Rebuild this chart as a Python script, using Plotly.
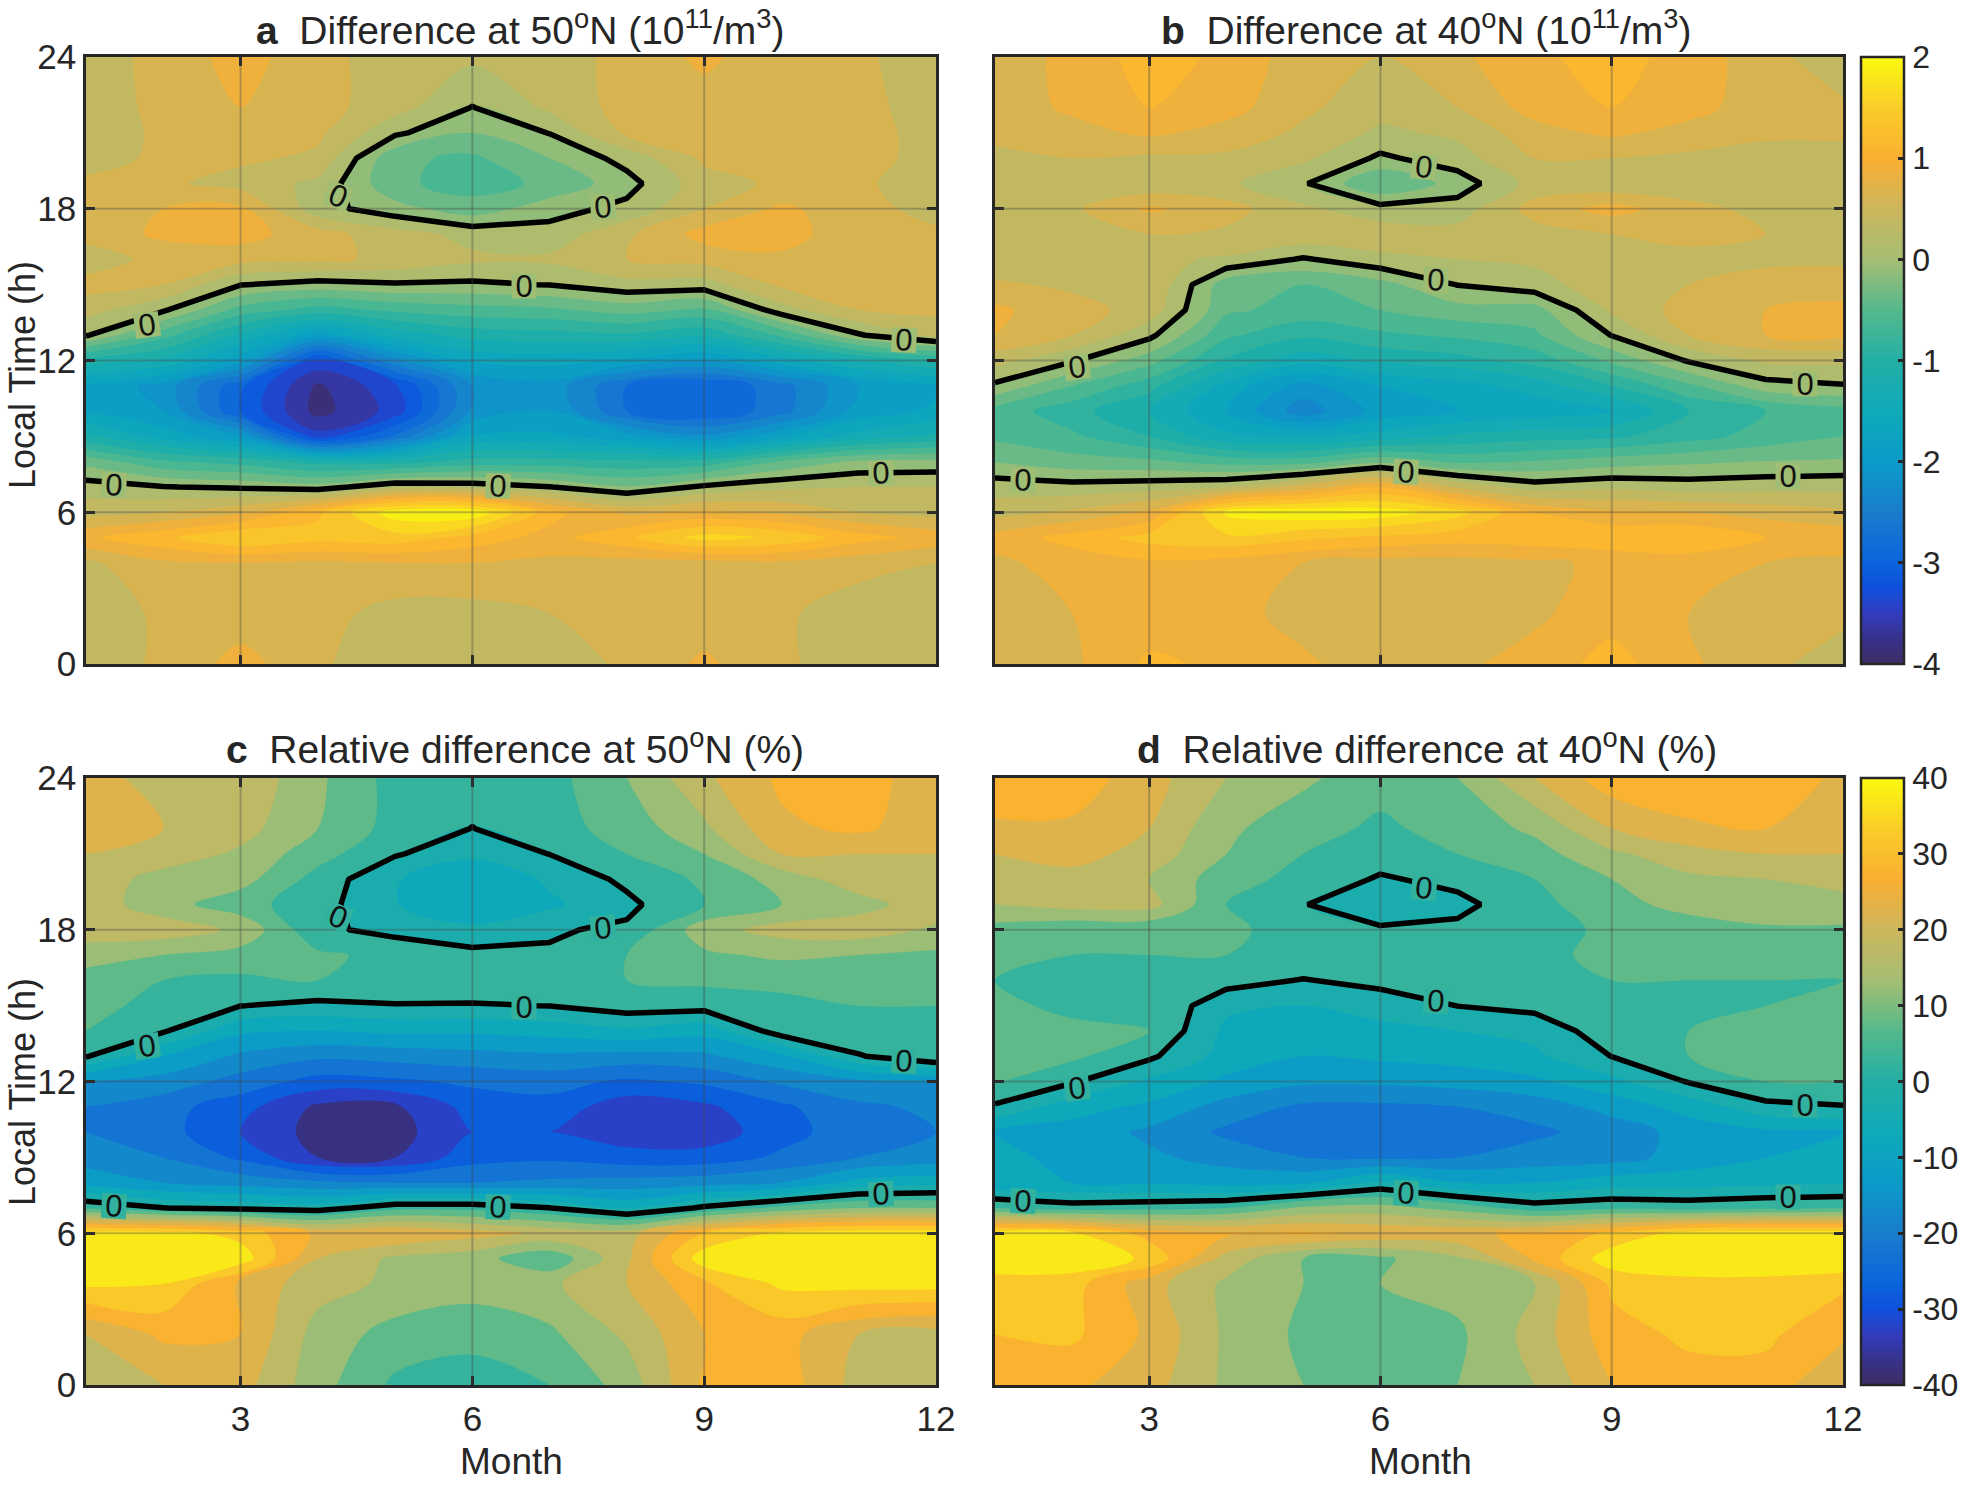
import plotly.graph_objects as go

months = list(range(1, 13))
hours = [0, 2, 4, 5, 6, 7, 8, 9, 10, 11, 12, 13, 14, 15, 16, 17, 18, 19, 20, 21, 22, 24]
month_ticks = [3, 6, 9, 12]
hour_ticks = [0, 6, 12, 18, 24]

panel_a = [
    [.35, .55, .85, .55, .3, .3, .35, .55, .8, .55, .35, .35],
    [.35, .55, .6, .6, .4, .4, .5, .6, .6, .55, .35, .35],
    [.45, .7, .75, .7, .75, .75, .7, .65, .65, .7, .6, .5],
    [.95, 1.2, 1.5, 1.35, 1.4, 1.15, .9, 1.2, 1.6, 1.45, 1.1, .9],
    [.4, .5, .7, 1.2, 1.9, 1.95, 1.1, .7, .8, .7, .5, .4],
    [.12, .01, -.04, -.13, .2, .16, .01, -.23, .05, .2, .25, .25],
    [-.33, -.7, -.85, -1.1, -1.1, -.9, -.9, -.95, -.9, -.47, -.2, -.17],
    [-1.2, -1.6, -2.0, -3.4, -2.7, -1.7, -1.7, -1.9, -2.2, -1.8, -1.4, -1.2],
    [-1.75, -2.0, -3.0, -3.85, -3.4, -2.2, -2.0, -2.75, -3.0, -2.6, -1.9, -1.7],
    [-1.8, -2.1, -2.95, -3.8, -3.3, -2.25, -2.1, -2.75, -3.0, -2.6, -2.0, -1.8],
    [-1.1, -1.3, -1.9, -3.3, -2.3, -1.7, -1.65, -1.8, -2.0, -1.6, -1.25, -1.0],
    [.03, -.65, -1.3, -1.9, -1.4, -1.15, -1.1, -1.05, -1.2, -.7, -.03, .33],
    [.35, .04, -.6, -.85, -.7, -.6, -.55, -.4, -.55, .15, .5, .55],
    [.6, .5, .01, -.1, -.03, -.05, .01, .17, .14, .55, .6, .6],
    [.35, .6, .6, .55, .45, .3, .3, .5, .6, .7, .6, .6],
    [.6, .8, .85, .6, .35, .17, .1, .45, .85, .85, .6, .55],
    [.6, .75, .8, .1, -.15, -.4, -.1, .07, .5, .8, .6, .4],
    [.55, .55, .4, .19, -.45, -.6, -.45, -.1, .4, .55, .55, .35],
    [.4, .55, .55, .45, -.45, -.55, -.25, .1, .55, .6, .6, .4],
    [.35, .55, .6, .55, .05, -.25, .01, .55, .6, .6, .6, .4],
    [.3, .6, .75, .6, .35, -.01, .3, .6, .65, .6, .6, .35],
    [.35, .6, .85, .6, .35, .3, .35, .6, .8, .6, .55, .35],
]

panel_b = [
    [.6, .7, 1.05, .95, .8, .6, .7, .85, 1.1, .8, .55, .4],
    [.6, .75, .85, .85, .65, .6, .6, .7, .9, .75, .65, .55],
    [.7, .85, .95, .9, .75, .65, .65, .7, .8, .85, .75, .7],
    [.85, 1.1, 1.35, 1.45, 1.3, 1.2, 1.1, 1.15, 1.2, 1.25, 1.0, .9],
    [.4, .55, .8, 1.8, 1.95, 1.9, 1.6, 1.0, .8, .75, .65, .55],
    [.14, .1, .15, .25, .6, 1.0, .45, .12, .2, .13, .16, .18],
    [-.26, -.4, -.45, -.6, -.6, -.3, -.55, -.48, -.37, -.3, -.24, -.22],
    [-.55, -.7, -1.0, -1.45, -1.55, -1.4, -1.2, -1.1, -1.05, -.85, -.65, -.5],
    [-.6, -.9, -1.25, -1.75, -2.4, -1.9, -1.75, -1.65, -1.55, -1.0, -.75, -.6],
    [-.05, -.5, -.9, -1.6, -2.1, -1.75, -1.6, -1.4, -1.0, -.55, -.1, -.02],
    [.35, .03, -.4, -1.05, -1.4, -1.2, -1.1, -.9, -.45, .03, .3, .3],
    [.75, .5, .07, -.7, -.95, -.8, -.7, -.55, .01, .5, .75, .8],
    [.8, .6, .4, -.45, -.6, -.5, -.35, -.35, .3, .6, .75, .8],
    [.55, .45, .5, -.4, -.5, -.35, .01, .15, .4, .5, .6, .65],
    [.3, .25, .3, .22, -.03, .19, .25, .3, .4, .45, .45, .45],
    [.4, .4, .5, .45, .45, .4, .35, .4, .5, .55, .5, .5],
    [.3, .45, .8, .6, .3, .1, .12, .6, .85, .6, .4, .3],
    [.3, .3, .3, .3, .03, -.5, -.15, .35, .3, .3, .35, .3],
    [.45, .5, .45, .45, .3, -.05, .15, .5, .5, .45, .4, .4],
    [.55, .65, .8, .65, .45, .2, .3, .65, .8, .65, .55, .55],
    [.6, .8, 1.0, .85, .55, .35, .5, .85, 1.0, .85, .6, .55],
    [.55, .85, 1.1, .95, .6, .5, .7, .95, 1.1, .9, .6, .3],
]

panel_c = [
    [18, 20, 22, 12, 4, 2, 5, 12, 26, 28, 18, 18],
    [20, 26, 25, 13, 8, 7, 9, 16, 25, 27, 20, 18],
    [36, 35, 24, 17, 14, 12, 14, 20, 29, 36, 37, 37],
    [40, 40, 38, 20, 14, 12, 6, 19, 38, 40, 40, 40],
    [37, 37, 33, 24, 25, 22, 19, 18, 30, 36, 38, 38],
    [4.4, .1, -1.5, -2.7, 3.5, 3.5, .1, -6, 1, 6.4, 10, 10],
    [-12, -15, -17, -19, -20, -20, -19, -18, -17, -15, -8.2, -6.7],
    [-17, -20, -26, -35, -35, -27, -26, -28, -28, -24, -20, -18],
    [-20, -23, -30, -37, -37, -30, -30, -33, -33, -27, -22, -20],
    [-20, -23, -28, -36, -36, -28, -27, -33, -31, -26, -21, -19],
    [-15, -17, -22, -27, -26, -24, -23, -26, -24, -19, -16, -15],
    [.45, -10, -16, -19, -18, -17, -16, -17, -16, -11, -.5, 5],
    [5, .6, -9, -10, -9, -9, -8, -6, -8, 2.7, 5, 5],
    [6, 4, .1, -1.3, -.3, -.5, .1, 2.6, 2, 4, 5, 5],
    [8, 5, 4, 5, 4, 4.5, 4, 5, 6, 6, 6, 6],
    [12, 10, 8, 6, 3.5, 1.5, .5, 5, 9, 11, 10, 9],
    [18, 18, 14, 1, -1.5, -3.5, -.5, .8, 13, 17, 18, 14],
    [18, 12, 7, 2, -4.7, -10, -6, -1.2, 4.8, 10, 13, 18],
    [18, 13, 12, 3, -4.5, -10, -4, 1.2, 6, 12, 18, 20],
    [20, 18, 14, 7, .5, -3.5, .1, 5, 10, 20, 20, 20],
    [24, 20, 17, 10, 3, -.1, 3, 7, 14, 24, 26, 22],
    [21, 19, 19, 11, 3, 2, 3, 10, 19, 26, 29, 20],
]

panel_d = [
    [27, 26, 22, 14, 10, 9, 10, 15, 25, 28, 28, 20],
    [30, 31, 24, 14, 9, 7, 9, 17, 28, 31, 31, 26],
    [32, 32, 22, 14, 10, 10, 12, 15, 31, 33, 33, 31],
    [40, 39, 34, 18, 10, 9, 14, 26, 38, 40, 40, 40],
    [37, 36, 28, 26, 26, 24, 24, 26, 31, 37, 38, 38],
    [5, 2.5, 3.5, 5, 11, 12, 8, 2.5, 4, 3, 4, 4.5],
    [-9.3, -10, -10.5, -11.7, -11, -4, -9.8, -10, -7.4, -7, -6, -5.5],
    [-9, -11, -14, -17, -20, -21, -20, -18, -17, -13, -10, -8],
    [-10, -12, -16, -21, -23, -23, -22, -21, -18, -13, -11, -10],
    [-.7, -8, -11, -17, -21, -21, -20, -18, -13, -8, -1.5, -.3],
    [5.5, .6, -6, -11, -14, -14, -13, -11, -6.5, .4, 5, 5],
    [8, 6, 1, -7, -10, -9, -8, -6, .1, 5, 8, 8],
    [8, 6, 5, -6, -7, -6, -5, -3.5, 3, 5, 6, 8],
    [6, 4, 5, -4, -5, -3.5, .1, 1.5, 4, 4, 5, 6],
    [5, 1.5, 3, 2.2, -.3, 1.9, 2.5, 4, 5, 5, 5, 5],
    [7, 5, 5, 5, 4.7, 4, 4, 4, 6, 7, 7, 7],
    [8, 6, 6, 6, 3, 1, 1.2, 3, 6, 7, 9, 9],
    [15, 17, 17, 5, .3, -5, -1.5, 3.5, 8, 12, 14, 14],
    [17, 18, 15, 7, 3.4, -.6, 1.5, 5, 10, 14, 15, 16],
    [20, 22, 18, 10, 5, 2.4, 5, 8, 14, 18, 20, 20],
    [24, 24, 20, 11, 7, 4, 7, 11, 20, 24, 25, 25],
    [29, 28, 22, 15, 11, 7, 10, 20, 28, 29, 28, 24],
]

# zero-contour label positions (month, hour, tilt in degrees)
labels_50N = [(1.79, 13.41, -8), (4.26, 18.49, 22), (7.69, 18.05, -5), (6.67, 14.96, 0),
              (11.58, 12.83, 3), (1.36, 7.09, 3), (6.33, 7.02, 2), (11.29, 7.55, -2)]
labels_40N = [(6.57, 19.64, 6), (2.07, 11.73, -8), (6.72, 15.18, 3), (11.51, 11.06, 0),
              (1.36, 7.27, 2), (6.33, 7.59, 2), (11.29, 7.45, 0)]

colorscale = [
    [0.000, "rgb(60,45,100)"], [0.042, "rgb(55,50,140)"], [0.083, "rgb(50,60,190)"],
    [0.125, "rgb(15,80,220)"], [0.167, "rgb(10,100,220)"], [0.250, "rgb(25,125,205)"],
    [0.333, "rgb(10,155,200)"], [0.417, "rgb(15,170,185)"], [0.500, "rgb(35,175,165)"],
    [0.583, "rgb(85,185,140)"], [0.667, "rgb(165,190,115)"], [0.750, "rgb(205,182,92)"],
    [0.833, "rgb(250,175,50)"], [0.917, "rgb(250,205,40)"], [1.000, "rgb(250,250,15)"],
]

W, H = 1961, 1485
FONT = "Liberation Sans"
TXT = "#262626"
FS_TICK = 35
FS_BAR = 32
FS_TITLE = 39


def xdom(a, b):
    return [a / W, b / W]


def ydom(top, bottom):
    return [1 - bottom / H, 1 - top / H]


panels = [
    dict(z=panel_a, xr=(86, 936), yr=(57, 664), lim=(-4, 2), step=.25, xa="x", ya="y", labels=labels_50N, bg="rgb(160,189,116)",
         title="<b>a</b>  Difference at 50<sup>o</sup>N (10<sup>11</sup>/m<sup>3</sup>)", tx=520, ty=27),
    dict(z=panel_b, xr=(995, 1843), yr=(57, 664), lim=(-4, 2), step=.25, xa="x2", ya="y2", labels=labels_40N, bg="rgb(160,189,116)",
         title="<b>b</b>  Difference at 40<sup>o</sup>N (10<sup>11</sup>/m<sup>3</sup>)", tx=1426, ty=27),
    dict(z=panel_c, xr=(86, 936), yr=(778, 1385), lim=(-40, 40), step=5, xa="x3", ya="y3", labels=labels_50N, bg="rgb(50,177,158)",
         title="<b>c</b>  Relative difference at 50<sup>o</sup>N (%)", tx=515, ty=746),
    dict(z=panel_d, xr=(995, 1843), yr=(778, 1385), lim=(-40, 40), step=5, xa="x4", ya="y4", labels=labels_40N, bg="rgb(50,177,158)",
         title="<b>d</b>  Relative difference at 40<sup>o</sup>N (%)", tx=1427, ty=746),
]

fig = go.Figure()
layout = dict(
    width=W, height=H, margin=dict(l=0, r=0, t=0, b=0, autoexpand=False), paper_bgcolor="white", plot_bgcolor="white",
    font=dict(family=FONT, size=FS_TICK, color=TXT), showlegend=False,
)
annots, shapes = [], []


def text_note(text, x, y, size=FS_TITLE, angle=0):
    return dict(text=text, x=x / W, y=1 - y / H, xref="paper", yref="paper", xanchor="center", yanchor="middle",
                showarrow=False, textangle=angle, font=dict(family=FONT, size=size, color=TXT))


for i, p in enumerate(panels):
    fig.add_trace(go.Contour(
        x=months, y=hours, z=p["z"], xaxis=p["xa"], yaxis=p["ya"],
        colorscale=colorscale, zmin=p["lim"][0], zmax=p["lim"][1], showscale=False,
        autocontour=False, line=dict(width=0),
        contours=dict(start=p["lim"][0], end=p["lim"][1], size=p["step"], coloring="fill", showlines=False),
        hoverinfo="skip",
    ))
    fig.add_trace(go.Contour(
        x=months, y=hours, z=p["z"], xaxis=p["xa"], yaxis=p["ya"], showscale=False,
        autocontour=False, line=dict(width=5.5, color="black", smoothing=0),
        contours=dict(start=0, end=0, size=1, coloring="none", showlabels=False),
        hoverinfo="skip",
    ))
    sfx = p["xa"][1:]
    common = dict(showgrid=False, zeroline=False, showline=True, linecolor=TXT, linewidth=2.5, mirror="ticks",
                  ticks="inside", ticklen=9, tickwidth=2.5, tickcolor=TXT,
                  tickfont=dict(family=FONT, size=FS_TICK, color=TXT), layer="above traces")
    layout[f"xaxis{sfx}"] = dict(common, domain=xdom(*p["xr"]), range=[1, 12], tickmode="array",
                                 tickvals=month_ticks, ticktext=[str(t) for t in month_ticks],
                                 showticklabels=i >= 2, anchor=p["ya"], ticklabelstandoff=1)
    layout[f"yaxis{sfx}"] = dict(common, domain=ydom(*p["yr"]), range=[0, 24], tickmode="array",
                                 tickvals=hour_ticks, ticktext=[str(t) for t in hour_ticks],
                                 showticklabels=i in (0, 2), anchor=p["xa"])
    for v in month_ticks[:-1]:
        shapes.append(dict(type="line", layer="above", xref=p["xa"], yref=f"{p['ya']} domain",
                           x0=v, x1=v, y0=0, y1=1, line=dict(color="rgba(70,70,70,0.35)", width=2)))
    for v in hour_ticks[1:-1]:
        shapes.append(dict(type="line", layer="above", yref=p["ya"], xref=f"{p['xa']} domain",
                           y0=v, y1=v, x0=0, x1=1, line=dict(color="rgba(70,70,70,0.35)", width=2)))
    annots.append(text_note(p["title"], p["tx"], p["ty"]))
    for mon, hr, tilt in p["labels"]:
        annots.append(dict(text="0", x=mon, y=hr, xref=p["xa"], yref=p["ya"], showarrow=False, textangle=tilt,
                           bgcolor=p["bg"], width=24, height=24, borderpad=0, align="center", valign="middle",
                           font=dict(family=FONT, size=31, color="#111111")))

annots += [
    text_note("Month", 511, 1461, size=37),
    text_note("Month", 1420, 1461, size=37),
    text_note("Local Time (h)", 22, 375, size=36, angle=-90),
    text_note("Local Time (h)", 22, 1092, size=36, angle=-90),
]

# colour bars
for lim, tvals, top in (((-4, 2), [-4, -3, -2, -1, 0, 1, 2], 57), ((-40, 40), [-40, -30, -20, -10, 0, 10, 20, 30, 40], 778)):
    fig.add_trace(go.Scatter(
        x=[None], y=[None], mode="markers", xaxis="x", yaxis="y", hoverinfo="skip",
        marker=dict(color=[lim[0]], cmin=lim[0], cmax=lim[1], colorscale=colorscale, showscale=True,
                    colorbar=dict(x=1861 / W, xanchor="left", xpad=0, ypad=0, thickness=43, thicknessmode="pixels",
                                  len=607, lenmode="pixels", y=1 - top / H, yanchor="top",
                                  outlinecolor=TXT, outlinewidth=2.5, tickmode="array", tickvals=tvals,
                                  ticktext=[str(t) for t in tvals], ticks="inside", ticklen=7, tickwidth=2.5,
                                  tickcolor=TXT, tickfont=dict(family=FONT, size=FS_BAR, color=TXT))),
    ))

layout["annotations"] = annots
layout["shapes"] = shapes
fig.update_layout(**layout)
fig.write_html("out.html", config={"displayModeBar": False}, post_script="document.body.style.margin='0';")
